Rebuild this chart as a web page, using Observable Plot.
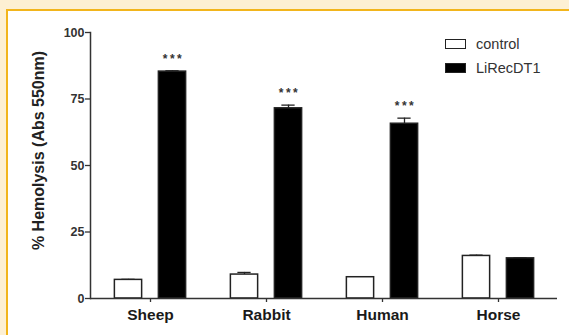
<!DOCTYPE html>
<html>
<head>
<meta charset="utf-8">
<script src="https://cdn.jsdelivr.net/npm/d3@7"></script>
<script src="https://cdn.jsdelivr.net/npm/@observablehq/plot@0.6"></script>
<style>
  html, body { margin: 0; padding: 0; }
  #wrap { position: relative; width: 569px; height: 335px; background: #fdf0d3; overflow: hidden;
          font-family: "Liberation Sans", Arial, sans-serif; }
  #panel { position: absolute; left: 6px; top: 9px; right: 0; bottom: 0; background: #fff;
           border-left: 2px solid #f2b51c; border-top: 2px solid #f2b51c; }
  #chart { position: absolute; left: 0; top: 0; }
  #legend { position: absolute; left: 445px; top: 32px; }
  .row { display: flex; align-items: center; height: 24px; }
  .swatch { width: 19px; height: 8px; border: 1.5px solid #222; }
  .row span { margin-left: 10px; font-size: 14.5px; color: #333; }
</style>
</head>
<body>
<div id="wrap">
  <div id="panel"></div>
  <div id="chart"></div>
  <div id="legend"></div>
</div>
<script>
// Erythrocyte species tested
const categories = ["Sheep", "Rabbit", "Human", "Horse"];
// Treatment groups and their fills
const groups = ["control", "LiRecDT1"];
const groupFills = ["#ffffff", "#000000"];
// Mean % hemolysis and SEM per species
const controlMean = [7.0, 9.0, 8.0, 16.0];
const controlErr = [0.2, 0.8, 0.2, 0.3];
const lirecMean = [85.3, 71.5, 65.7, 15.1];
const lirecErr = [0.3, 1.2, 2.1, 0.2];
// Significance vs. control
const lirecSig = ["***", "***", "***", ""];
const yTicks = [0, 25, 50, 75, 100];
const yLabel = "% Hemolysis (Abs 550nm)";

const W = 569, H = 335, mL = 90, mR = 12, mT = 32, mB = 37;
const bw = (W - mL - mR) / categories.length; // band width per species
const barW = 28, capW = 14, off = 22;          // bar width, cap width, offset from tick

const rows = (means, errs, g, sig) => categories.map((c, i) => ({
  category: c, group: g, value: means[i], err: errs[i], sig: sig ? sig[i] : ""
}));
const controlRows = rows(controlMean, controlErr, groups[0]);
const lirecRows = rows(lirecMean, lirecErr, groups[1], lirecSig);

const ink = "#222";

function groupMarks(data, dx, fill) {
  return [
    Plot.ruleX(data, {x: "category", y1: "value", y2: d => d.value + d.err, dx, stroke: ink, strokeWidth: 1.3}),
    Plot.tickY(data, {x: "category", y: d => d.value + d.err, dx, stroke: ink, strokeWidth: 1.3,
      insetLeft: (bw - capW) / 2, insetRight: (bw - capW) / 2}),
    Plot.barY(data, {x: "category", y: "value", dx, fill, stroke: ink, strokeWidth: 1.5,
      insetLeft: (bw - barW) / 2, insetRight: (bw - barW) / 2})
  ];
}

const chart = Plot.plot({
  width: W, height: H,
  marginLeft: mL, marginRight: mR, marginTop: mT, marginBottom: mB,
  style: {background: "transparent", fontFamily: "'Liberation Sans', Arial, sans-serif", color: ink, overflow: "visible"},
  x: {domain: categories, padding: 0, label: null},
  y: {domain: [0, 100], label: null},
  marks: [
    Plot.axisY({ticks: yTicks, tickSize: 5, tickPadding: 1, fontSize: 12.5, fontWeight: "bold",
      fill: "#333", stroke: "#333", strokeWidth: 1.3, label: null}),
    Plot.axisX({tickSize: 4, tickPadding: 6, fontSize: 15.5, fontWeight: "bold",
      fill: "#1a1a1a", stroke: "#333", strokeWidth: 1.3, label: null}),
    ...groupMarks(controlRows, -off, groupFills[0]),
    ...groupMarks(lirecRows, off, groupFills[1]),
    Plot.text(lirecRows.filter(d => d.sig), {x: "category", y: d => d.value + d.err, text: "sig",
      dx: off + 1, dy: -12, fontSize: 12, fontWeight: "bold", fill: "#333"}),
    Plot.ruleY([0], {stroke: "#333", strokeWidth: 1.5}),
    Plot.frame({anchor: "left", stroke: "#333", strokeWidth: 1.5}),
    Plot.text([yLabel], {frameAnchor: "left", textAnchor: "middle", rotate: -90, dx: -52, dy: -15,
      fontSize: 16, fontWeight: "bold", fill: ink})
  ]
});
document.getElementById("chart").appendChild(chart);

// Spread out the significance asterisks
d3.select(chart).selectAll("text")
  .filter(function () { return lirecSig.includes(this.textContent) && this.textContent; })
  .style("letter-spacing", "2.5px");

// Legend for the two treatment groups
const legend = d3.select("#legend");
groups.forEach((g, i) => {
  const row = legend.append("div").attr("class", "row");
  row.append("div").attr("class", "swatch").style("background", groupFills[i]);
  row.append("span").text(g);
});
</script>
</body>
</html>
